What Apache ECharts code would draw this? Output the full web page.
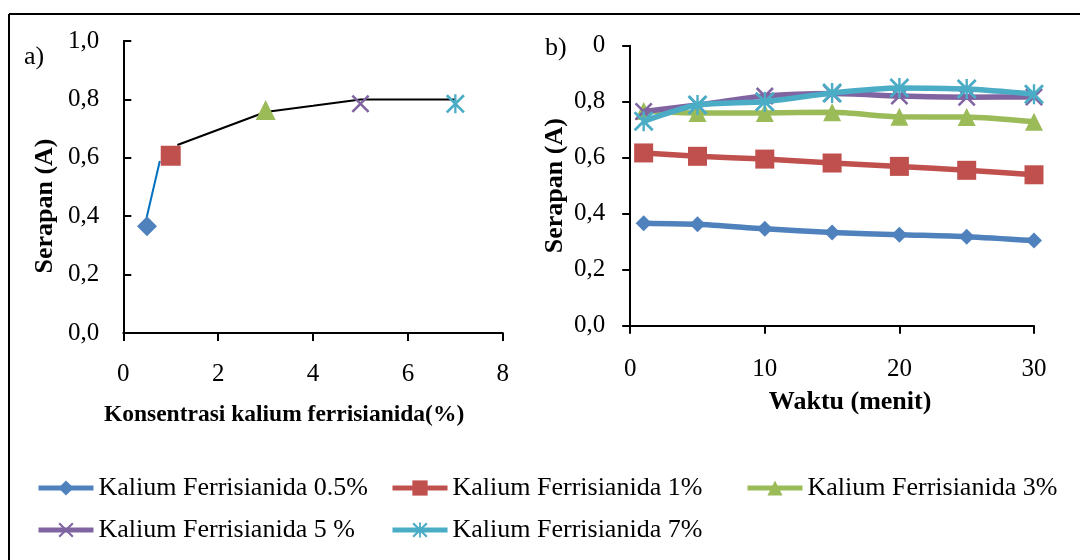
<!DOCTYPE html>
<html>
<head>
<meta charset="utf-8">
<script src="https://cdn.jsdelivr.net/npm/echarts@6/dist/echarts.min.js"></script>
<style>
html,body{margin:0;padding:0;background:#fff;}
#chart{width:1080px;height:560px;}
</style>
</head>
<body>
<div id="chart"></div>
<script>
// ---- data ----
var seriesNames = ['Kalium Ferrisianida 0.5%', 'Kalium Ferrisianida 1%', 'Kalium Ferrisianida 3%', 'Kalium Ferrisianida 5 %', 'Kalium Ferrisianida 7%'];
// panel a)
var konsentrasi = [0.5, 1, 3, 5, 7];
var serapanKonsentrasi = [0.366, 0.607, 0.764, 0.785, 0.785];
var trendX = [1.14, 3, 4, 5, 7];
var trendY = [0.644, 0.757, 0.778, 0.800, 0.800];
var blueSegX = [0.49, 0.77];
var blueSegY = [0.394, 0.589];
var xTicksA = ['0', '2', '4', '6', '8'];
var yTicksA = ['0,0', '0,2', '0,4', '0,6', '0,8', '1,0'];
// panel b)
var waktu = [1, 5, 10, 15, 20, 25, 30];
var serapan05 = [0.366, 0.362, 0.346, 0.333, 0.325, 0.318, 0.304];
var serapan1 = [0.617, 0.605, 0.595, 0.581, 0.569, 0.555, 0.539];
var serapan3 = [0.767, 0.760, 0.760, 0.762, 0.746, 0.745, 0.728];
var serapan5 = [0.765, 0.788, 0.820, 0.829, 0.820, 0.816, 0.817];
var serapan7 = [0.730, 0.788, 0.800, 0.831, 0.849, 0.845, 0.827];
var xTicksB = ['0', '10', '20', '30'];
var yTicksB = ['0,0', '0,2', '0,4', '0,6', '0,8', '0'];

var colors = ['#4F81BD', '#C0504D', '#9BBB59', '#8064A2', '#4BACC6'];
var xPath = 'path://M0,1 L1,0 L10,9 L9,10 Z M9,0 L10,1 L1,10 L0,9 Z';
var starPath = 'path://M0,1 L1,0 L10,9 L9,10 Z M9,0 L10,1 L1,10 L0,9 Z M4.4,0 L5.6,0 L5.6,10 L4.4,10 Z';
var symbols = ['diamond', 'rect', 'triangle', xPath, starPath];
var symSizeA = [20, 20, 20, 18, 19];
var symSizeB = [16, 19, 18, 18, 20];
var valuesB = [serapan05, serapan1, serapan3, serapan5, serapan7];

var FONT = 'Liberation Serif';

function pairs(xs, ys) { return xs.map(function (x, i) { return [x, ys[i]]; }); }

var series = [];
// panel b lines (first so legend icons follow them)
valuesB.forEach(function (vals, i) {
  series.push({
    name: seriesNames[i], type: 'line', xAxisIndex: 1, yAxisIndex: 1,
    data: pairs(waktu, vals), smooth: 0.25,
    symbol: symbols[i], symbolSize: symSizeB[i], showSymbol: true,
    lineStyle: { color: colors[i], width: 5.5 },
    itemStyle: { color: colors[i], borderWidth: 0 },
    emphasis: { disabled: true }, animation: false, z: 2 + i
  });
});
// panel a helper lines
series.push({
  name: 'garis1', type: 'line', xAxisIndex: 0, yAxisIndex: 0,
  data: pairs(blueSegX, blueSegY), symbol: 'none',
  lineStyle: { color: '#0070C0', width: 2 }, animation: false, z: 1
});
series.push({
  name: 'garis2', type: 'line', xAxisIndex: 0, yAxisIndex: 0,
  data: pairs(trendX, trendY), symbol: 'none',
  lineStyle: { color: '#000000', width: 2 }, animation: false, z: 1
});
// panel a points
konsentrasi.forEach(function (c, i) {
  series.push({
    name: seriesNames[i], type: 'scatter', xAxisIndex: 0, yAxisIndex: 0,
    data: [[c, serapanKonsentrasi[i]]],
    symbol: symbols[i], symbolSize: symSizeA[i],
    itemStyle: { color: colors[i], opacity: 1 },
    emphasis: { disabled: true }, animation: false, z: 5
  });
});

var legends = [];
var legendPos = [[36, 475], [390, 475], [745, 475], [36, 517], [390, 517]];
seriesNames.forEach(function (n, i) {
  legends.push({
    data: [n], left: legendPos[i][0], top: legendPos[i][1],
    itemWidth: 55, itemHeight: 19, itemGap: 0, padding: 0,
    textStyle: { fontFamily: FONT, fontSize: 26, color: '#000' },
    lineStyle: { width: 5 },
    selectedMode: true
  });
});

var axisLineStyle = { color: '#000', width: 2 };

var option = {
  backgroundColor: '#ffffff',
  animation: false,
  legend: legends,
  grid: [
    { left: 123.3, right: 577.2, top: 41, bottom: 227, containLabel: false, outerBoundsMode: 'none' },
    { left: 630.2, right: 46, top: 45.7, bottom: 234.3, containLabel: false, outerBoundsMode: 'none' }
  ],
  xAxis: [
    {
      gridIndex: 0, type: 'value', min: 0, max: 8, interval: 2,
      name: 'Konsentrasi kalium ferrisianida(%)', nameLocation: 'middle', nameGap: 70,
      nameTextStyle: { fontFamily: FONT, fontSize: 23.5, fontWeight: 'bold', color: '#000', padding: [0, 58, 0, 0] },
      axisLine: { show: true, lineStyle: axisLineStyle },
      axisTick: { show: true, length: 8, lineStyle: axisLineStyle },
      splitLine: { show: false },
      axisLabel: { fontFamily: FONT, fontSize: 25, color: '#000', margin: 29,
        formatter: function (v) { return xTicksA[Math.round(v / 2)]; } }
    },
    {
      gridIndex: 1, type: 'value', min: 0, max: 30, interval: 10,
      name: 'Waktu (menit)', nameLocation: 'middle', nameGap: 64,
      nameTextStyle: { fontFamily: FONT, fontSize: 26, fontWeight: 'bold', color: '#000', padding: [0, 0, 0, 36] },
      axisLine: { show: true, lineStyle: axisLineStyle },
      axisTick: { show: true, length: 8, lineStyle: axisLineStyle },
      splitLine: { show: false },
      axisLabel: { fontFamily: FONT, fontSize: 25, color: '#000', margin: 31,
        formatter: function (v) { return xTicksB[Math.round(v / 10)]; } }
    }
  ],
  yAxis: [
    {
      gridIndex: 0, type: 'value', min: 0, max: 1, interval: 0.2,
      name: 'Serapan (A)', nameLocation: 'middle', nameGap: 65, nameRotate: 90,
      nameTextStyle: { fontFamily: FONT, fontSize: 26, fontWeight: 'bold', color: '#000', padding: [0, 38, 0, 0] },
      axisLine: { show: true, lineStyle: axisLineStyle },
      axisTick: { show: true, inside: true, length: 8, lineStyle: axisLineStyle },
      splitLine: { show: false },
      axisLabel: { fontFamily: FONT, fontSize: 25, color: '#000', margin: 24,
        formatter: function (v) { return yTicksA[Math.round(v / 0.2)]; } }
    },
    {
      gridIndex: 1, type: 'value', min: 0, max: 1, interval: 0.2,
      name: 'Serapan (A)', nameLocation: 'middle', nameGap: 62, nameRotate: 90,
      nameTextStyle: { fontFamily: FONT, fontSize: 26, fontWeight: 'bold', color: '#000' },
      axisLine: { show: true, lineStyle: axisLineStyle },
      axisTick: { show: true, length: 8, lineStyle: axisLineStyle },
      splitLine: { show: false },
      axisLabel: { fontFamily: FONT, fontSize: 25, color: '#000', margin: 25,
        formatter: function (v) { return yTicksB[Math.round(v / 0.2)]; } }
    }
  ],
  graphic: [
    { type: 'line', shape: { x1: 9, y1: 14, x2: 1080, y2: 14 }, style: { stroke: '#000', lineWidth: 2 }, silent: true },
    { type: 'line', shape: { x1: 9, y1: 14, x2: 9, y2: 560 }, style: { stroke: '#000', lineWidth: 2 }, silent: true },
    { type: 'text', left: 24, top: 44, style: { text: 'a)', fontFamily: FONT, fontSize: 26, fill: '#000' } },
    { type: 'text', left: 545, top: 35, style: { text: 'b)', fontFamily: FONT, fontSize: 26, fill: '#000' } }
  ],
  series: series
};

var chart = echarts.init(document.getElementById('chart'), null, { renderer: 'canvas' });
chart.setOption(option);
</script>
</body>
</html>
